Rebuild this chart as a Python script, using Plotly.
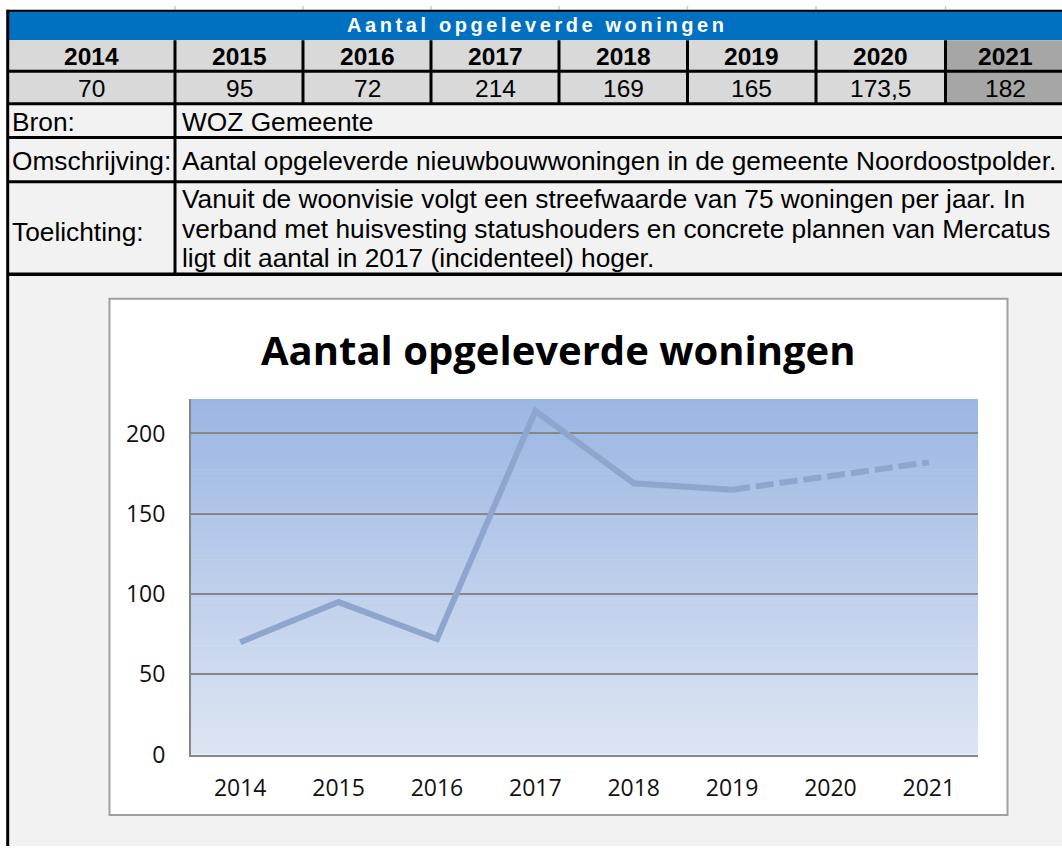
import plotly.graph_objects as go

# ---------------- data ----------------
years = ["2014", "2015", "2016", "2017", "2018", "2019", "2020", "2021"]
values = [70, 95, 72, 214, 169, 165, 173.5, 182]
value_labels = ["70", "95", "72", "214", "169", "165", "173,5", "182"]
table_title = "Aantal opgeleverde woningen"
chart_title = "Aantal opgeleverde woningen"
row_labels = ["Bron:", "Omschrijving:", "Toelichting:"]
bron_text = "WOZ Gemeente"
omschrijving_text = "Aantal opgeleverde nieuwbouwwoningen in de gemeente Noordoostpolder."
toelichting_lines = [
    "Vanuit de woonvisie volgt een streefwaarde van 75 woningen per jaar. In",
    "verband met huisvesting statushouders en concrete plannen van Mercatus",
    "ligt dit aantal in 2017 (incidenteel) hoger.",
]
y_ticks = [0, 50, 100, 150, 200]
n_solid = 6  # 2014-2019 measured, 2020-2021 dashed

# ---------------- geometry helpers ----------------
W, H = 1062, 861
def px(x):
    return x / W
def py(y):
    return 1 - y / H

shapes = []
annotations = []

def rect(x0, y0, x1, y1, fill, lc=None, lw=0):
    shapes.append(dict(type="rect", xref="paper", yref="paper",
                       x0=px(x0), x1=px(x1), y0=py(y1), y1=py(y0),
                       fillcolor=fill, layer="below",
                       line=dict(color=lc if lc else fill, width=lw)))

def line(x0, y0, x1, y1, color="black", width=3):
    shapes.append(dict(type="line", xref="paper", yref="paper",
                       x0=px(x0), x1=px(x1), y0=py(y0), y1=py(y1),
                       layer="below", line=dict(color=color, width=width)))

def text(x, y, s, size, color="black", bold=False, anchor="center", family="Liberation Sans, Arial"):
    if bold:
        s = "<b>" + s + "</b>"
    annotations.append(dict(xref="paper", yref="paper", x=px(x), y=py(y),
                            text=s, showarrow=False, xanchor=anchor, yanchor="middle",
                            font=dict(family=family, size=size, color=color)))

# ---------------- table ----------------
col_edges = [8, 175, 303, 431, 559, 687.5, 816, 945.5, 1062]
# backgrounds
rect(8, 11, 1062, 41, "#0070c0")
for i in range(len(years)):
    fill = "#a6a6a6" if i == len(years) - 1 else "#d9d9d9"
    rect(col_edges[i], 41, col_edges[i + 1], 106, fill)
rect(8, 106, 1062, 861, "#f2f2f2")

# small tick marks above header
for xe in col_edges[1:-1]:
    line(xe, 6, xe, 11, color="#c8c8c8", width=1.5)

# grid lines
line(7, 11, 1062, 11, width=2)
for yy in [72.5, 105.5, 140, 185, 279]:
    line(7, yy, 1062, yy, width=3.5 if yy == 279 else 3)
line(7.7, 10, 7.7, 861, width=3)
line(175, 41, 175, 279, width=3)
for xe in col_edges[2:-1]:
    line(xe, 41, xe, 106, width=3)

# header text
text(537, 25.5, '<span style="letter-spacing:3.6px">' + table_title + '</span>', 20, color="white", bold=True)
for i, (yr, vl) in enumerate(zip(years, value_labels)):
    cx = (col_edges[i] + col_edges[i + 1]) / 2 + (2 if i == len(years) - 1 else 0)
    text(cx, 57, yr, 24.5, bold=True)
    text(cx, 90, vl, 24.5)

# text rows
FS = 26.3
text(10, 124, row_labels[0], FS, anchor="left")
text(10, 163.5, row_labels[1], FS, anchor="left")
text(10, 236, row_labels[2], FS, anchor="left")
text(180, 124, bron_text, FS, anchor="left")
text(180, 163.5, omschrijving_text, FS, anchor="left")
for k, ln in enumerate(toelichting_lines):
    text(180, 203 + 30 * k, ln, FS, anchor="left")

# ---------------- chart box ----------------
rect(109.5, 304, 1007.5, 829.5, "white", lc="#a0a0a0", lw=2)

PL, PR, PT, PB = 191, 978, 406, 768
# gradient plot background (strips)
top_c = (155, 182, 227)
bot_c = (221, 229, 243)
n = 91
for k in range(n):
    t = k / (n - 1)
    c = tuple(round(top_c[j] + (bot_c[j] - top_c[j]) * t) for j in range(3))
    y0 = PT + (PB - PT) * k / n
    y1 = PT + (PB - PT) * (k + 1) / n + 0.6
    shapes.append(dict(type="rect", xref="paper", yref="paper",
                       x0=px(PL), x1=px(PR), y0=py(min(y1, PB)), y1=py(y0),
                       fillcolor="rgb(%d,%d,%d)" % c, layer="below",
                       line=dict(width=0)))

text(558, 356, chart_title, 40, bold=True, family="Open Sans")

line_color = "rgb(142,166,205)"
fig = go.Figure()
fig.add_trace(go.Scatter(x=years[:n_solid], y=values[:n_solid], mode="lines",
                         line=dict(color=line_color, width=6), hoverinfo="skip",
                         showlegend=False))
fig.add_trace(go.Scatter(x=years[n_solid - 1:], y=values[n_solid - 1:], mode="lines",
                         line=dict(color=line_color, width=6, dash="18px,6px"),
                         hoverinfo="skip", showlegend=False))

fig.update_layout(
    width=W, height=H, autosize=False,
    margin=dict(l=0, r=0, t=0, b=0),
    paper_bgcolor="white",
    plot_bgcolor="rgba(0,0,0,0)",
    shapes=shapes,
    annotations=annotations,
    xaxis=dict(domain=[px(PL), px(PR)], type="category", range=[-0.5, 7.5],
               showgrid=False, zeroline=False, showline=True, linecolor="#868686",
               linewidth=2, ticks="", ticklabelstandoff=12,
               tickfont=dict(family="Open Sans", size=23, color="#111111"), fixedrange=True),
    yaxis=dict(domain=[py(PB), py(PT)], range=[0, 221.5], tickvals=y_ticks,
               showgrid=True, gridcolor="#868686", gridwidth=1.5, zeroline=False,
               showline=True, linecolor="#868686", linewidth=2, ticks="",
               ticklabelstandoff=19,
               tickfont=dict(family="Open Sans", size=23, color="#111111"), fixedrange=True),
)

fig.write_html(
    "out.html",
    post_script=("document.body.style.margin='0';"
                 "document.body.style.overflow='hidden';"
                 "document.documentElement.style.overflow='hidden';"),
    config={"displayModeBar": False, "responsive": False},
)
